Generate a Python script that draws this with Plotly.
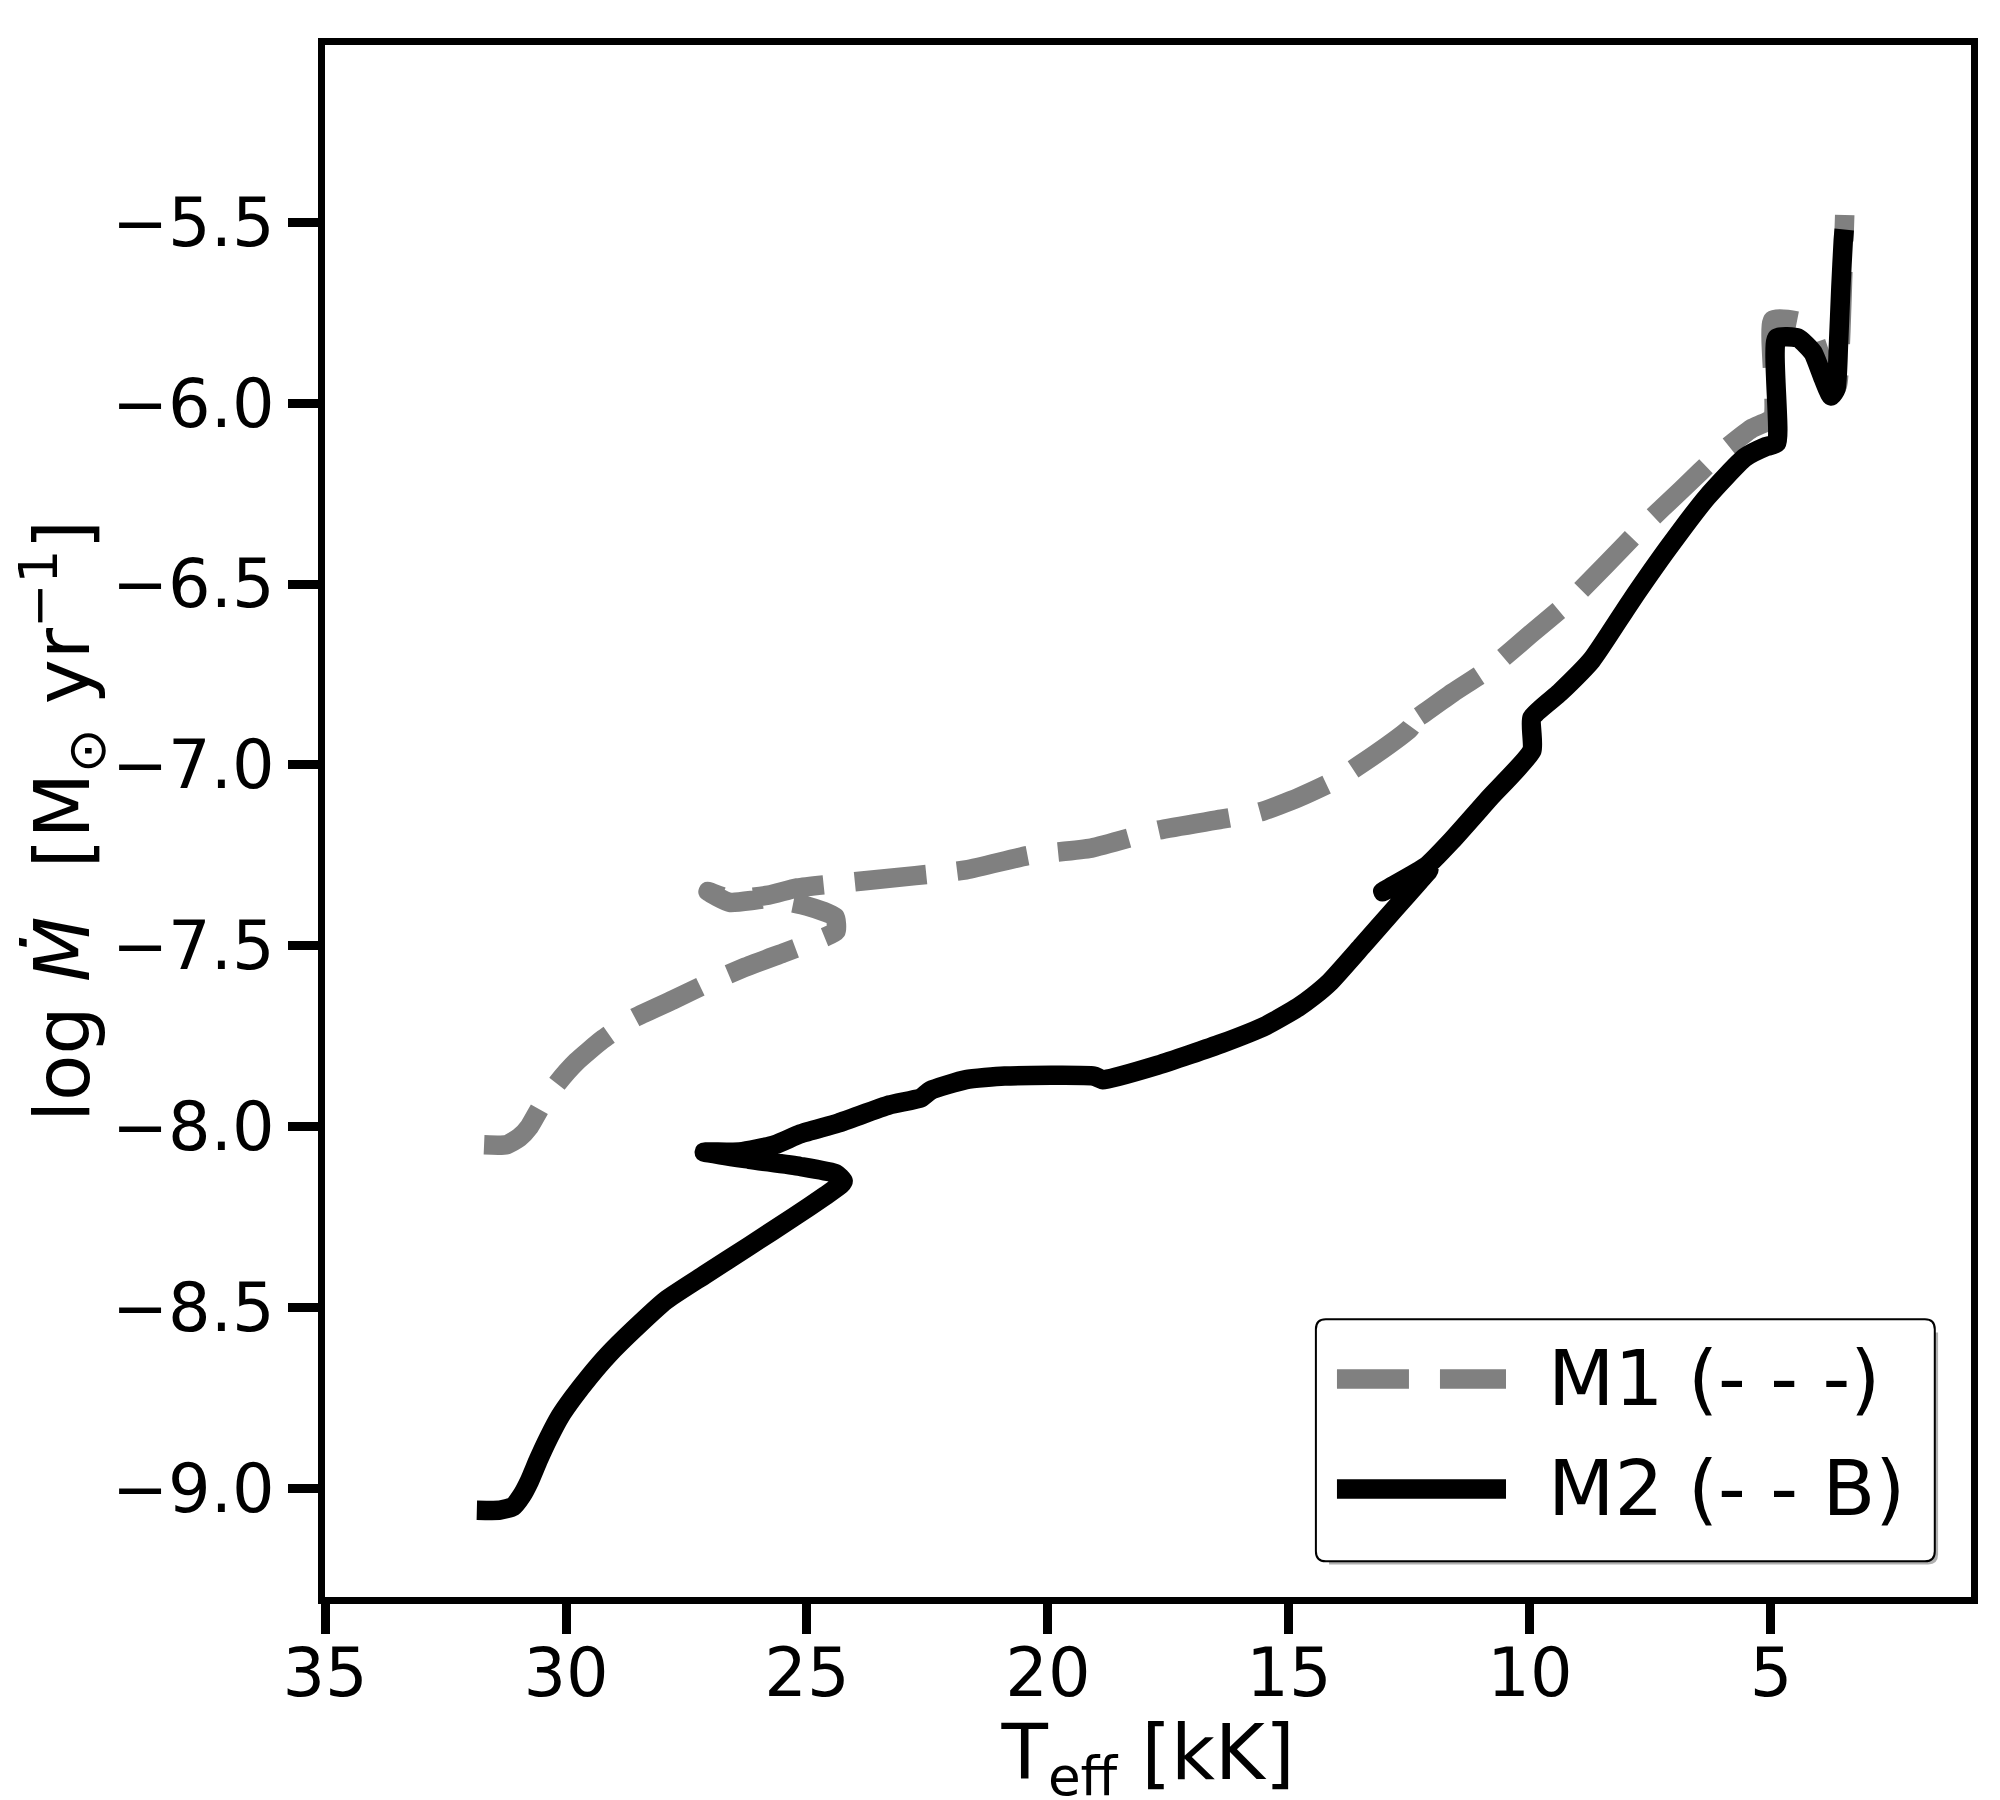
import plotly.graph_objects as go

# M1 track (grey, dashed): Teff [kK] and log Mdot
m1_teff = [31.7, 31.24, 30.97, 30.76, 30.5, 30.18, 29.78, 29.25, 28.59, 27.79, 27.0, 26.3, 25.5, 24.9,
           24.4, 24.42, 25.0, 25.8, 26.6, 27.05, 26.6, 25.8, 25.2, 23.8, 21.7, 20.4, 19.1, 17.7,
           16.4, 15.6, 14.8, 14.0, 13.2, 12.5, 12.25, 12.35, 11.6, 10.8, 10.0, 9.2, 8.45, 7.65,
           6.86, 6.07, 5.4, 4.96, 4.96, 4.27, 4.1, 3.9, 3.72, 3.62, 3.55, 3.5, 3.47]
m1_mdot = [-8.05, -8.05, -8.03, -8.0, -7.94, -7.88, -7.82, -7.76, -7.7, -7.65, -7.6, -7.56, -7.52, -7.49,
           -7.46, -7.42, -7.39, -7.37, -7.38, -7.35, -7.37, -7.36, -7.34, -7.32, -7.29, -7.25, -7.23, -7.18,
           -7.15, -7.13, -7.09, -7.04, -6.97, -6.9, -6.85, -6.87, -6.80, -6.73, -6.64, -6.55, -6.45, -6.34,
           -6.24, -6.14, -6.07, -6.04, -5.77, -5.78, -5.82, -5.9, -5.97, -5.95, -5.8, -5.6, -5.48]

# M2 track (black, solid)
m2_teff = [31.85, 31.37, 31.1, 30.92, 30.76, 30.57, 30.36, 30.12, 29.86, 29.51, 29.12, 28.59, 27.93,
           27.13, 26.2, 25.28, 24.61, 24.3, 24.25, 24.4, 25.14, 26.2, 27.13, 26.4, 25.67, 25.14, 24.35,
           23.29, 22.63, 22.44, 21.7, 20.9, 19.05, 18.86, 17.72, 16.4, 15.47, 14.81, 14.5, 14.15, 13.48,
           12.82, 12.29, 12.1, 13.05, 12.15, 11.63, 10.83, 9.96, 9.96, 9.38, 8.72, 7.92, 7.13, 6.33, 5.54,
           5.1, 4.88, 4.88, 4.44, 4.13, 3.92, 3.75, 3.65, 3.6, 3.55, 3.5, 3.48]
m2_mdot = [-9.06, -9.06, -9.05, -9.02, -8.98, -8.92, -8.86, -8.8, -8.75, -8.69, -8.63, -8.56, -8.48,
           -8.41, -8.33, -8.25, -8.19, -8.16, -8.15, -8.13, -8.11, -8.09, -8.07, -8.07, -8.05, -8.02, -7.99,
           -7.94, -7.92, -7.9, -7.87, -7.86, -7.86, -7.87, -7.83, -7.77, -7.72, -7.67, -7.64, -7.6, -7.5,
           -7.4, -7.32, -7.29, -7.35, -7.28, -7.21, -7.09, -6.96, -6.87, -6.80, -6.71, -6.55, -6.4, -6.26,
           -6.15, -6.12, -6.11, -5.82, -5.82, -5.86, -5.93, -5.98, -5.96, -5.84, -5.68, -5.55, -5.52]

x_ticks = [35, 30, 25, 20, 15, 10, 5]
y_ticks = [-9.0, -8.5, -8.0, -7.5, -7.0, -6.5, -6.0, -5.5]
y_labels = ['−9.0', '−8.5', '−8.0', '−7.5', '−7.0', '−6.5', '−6.0', '−5.5']
names = ['M1 (- - -)', 'M2 (- - B)']

FONT = 'DejaVu Sans'
LW = 19.5

fig = go.Figure()
fig.add_trace(go.Scatter(x=m1_teff, y=m1_mdot, mode='lines', name=names[0],
                         line=dict(color='#808080', width=LW, dash='72px,31px',
                                   shape='spline', smoothing=0.5)))
fig.add_trace(go.Scatter(x=m2_teff, y=m2_mdot, mode='lines', name=names[1],
                         line=dict(color='black', width=LW, shape='spline', smoothing=0.5)))

fig.update_xaxes(range=[35, 0.85], tickvals=x_ticks, ticks='outside', ticklen=30, tickwidth=9,
                 tickcolor='black', showline=True, linewidth=7, linecolor='black', mirror=True,
                 showgrid=False, zeroline=False, ticklabelstandoff=-18,
                 tickfont=dict(size=67, family=FONT, color='black'),
                 title=dict(text='T<sub>eff</sub> [kK]', font=dict(size=76, family=FONT, color='black'),
                            standoff=30))
fig.update_yaxes(range=[-9.3, -5.01], tickvals=y_ticks, ticktext=y_labels, ticks='outside', ticklen=30,
                 tickwidth=9, tickcolor='black', showline=True, linewidth=7, linecolor='black',
                 mirror=True, showgrid=False, zeroline=False,
                 tickfont=dict(size=67, family=FONT, color='black'),
                 title=dict(text='log <i>Ṁ</i>  [M<sub>⊙</sub> yr<sup>−1</sup>]',
                            font=dict(size=76, family=FONT, color='black'), standoff=0))

# legend box drawn in paper coordinates, matplotlib-style with rounded corners
x0, x1, y0, y1 = 0.602, 0.978, 0.023, 0.179
rx, ry = 0.006, 0.0065
box = (f'M{x0+rx},{y0} L{x1-rx},{y0} Q{x1},{y0} {x1},{y0+ry} L{x1},{y1-ry} Q{x1},{y1} {x1-rx},{y1} '
       f'L{x0+rx},{y1} Q{x0},{y1} {x0},{y1-ry} L{x0},{y0+ry} Q{x0},{y0} {x0+rx},{y0} Z')
d = 0.002
fig.add_shape(type='path', xref='paper', yref='paper',
              path=(f'M{x0+rx+d},{y0-d} L{x1-rx+d},{y0-d} Q{x1+d},{y0-d} {x1+d},{y0+ry-d} '
                    f'L{x1+d},{y1-ry-d} L{x0+d},{y1-ry-d} Z'),
              line=dict(color='rgba(0,0,0,0)', width=0), fillcolor='#b0b0b0')
fig.add_shape(type='path', xref='paper', yref='paper', path=box,
              line=dict(color='black', width=2), fillcolor='white')
legend_y = [0.1405, 0.0696]
fig.add_shape(type='line', xref='paper', yref='paper', x0=0.6148, x1=0.7175, y0=legend_y[0], y1=legend_y[0],
              line=dict(color='#808080', width=LW, dash='72px,31px'))
fig.add_shape(type='line', xref='paper', yref='paper', x0=0.6148, x1=0.7175, y0=legend_y[1], y1=legend_y[1],
              line=dict(color='black', width=LW))
for name, ly in zip(names, legend_y):
    fig.add_annotation(x=0.742, y=ly, xref='paper', yref='paper', text=name, showarrow=False,
                       xanchor='left', yanchor='middle', font=dict(size=77, family=FONT, color='black'))

fig.update_layout(width=2000, height=1800, showlegend=False,
                  paper_bgcolor='white', plot_bgcolor='white',
                  margin=dict(l=317, r=37, t=37, b=197),
                  font=dict(family=FONT, color='black'))

fig.write_html('out.html')
